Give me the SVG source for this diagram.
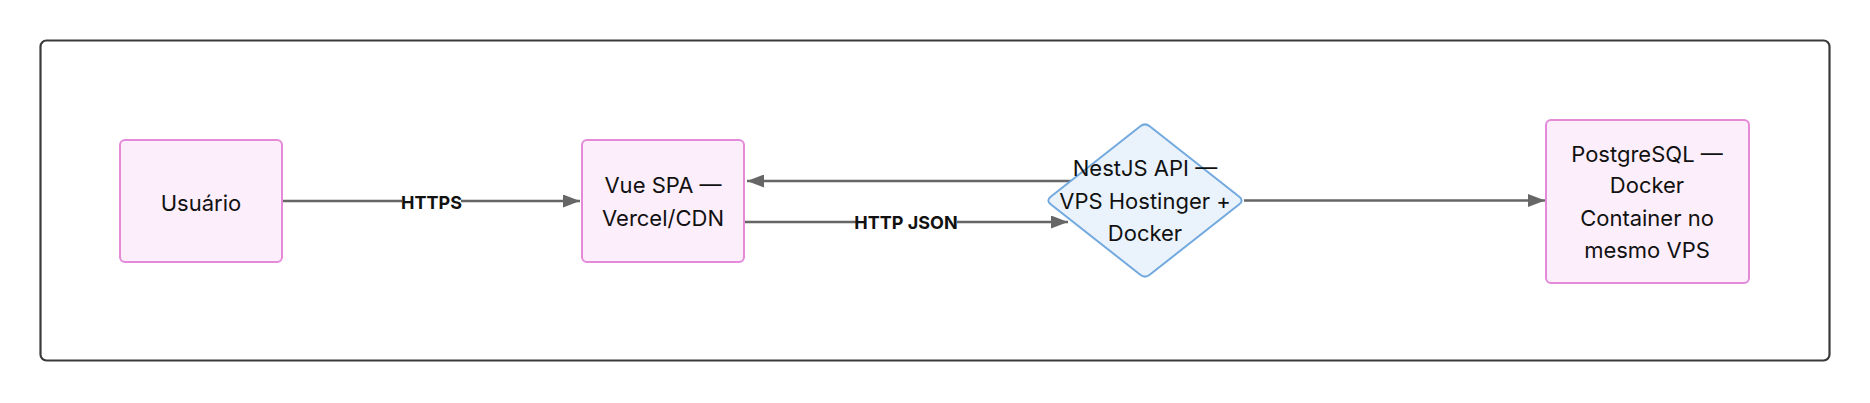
<svg xmlns="http://www.w3.org/2000/svg" width="1870" height="403" viewBox="0 0 1870 403">
<style>
.node-rect{fill:#fdeefb;stroke:#e48ad8;stroke-width:2}
.node-dia{fill:#eaf3fc;stroke:#72a9de;stroke-width:2}
.ntext{font-family:Inter,"Liberation Sans",sans-serif;font-size:22px;fill:#111;text-anchor:middle}
.etext{font-family:Inter,"Liberation Sans",sans-serif;font-size:18px;font-weight:bold;fill:#111;text-anchor:middle}
.edge{stroke:#666;stroke-width:2.5;fill:none}
.lbg{fill:#fff}
</style>
<defs>
<marker id="arrow" viewBox="0 0 17 13" refX="17" refY="6.5" markerWidth="17" markerHeight="13" markerUnits="userSpaceOnUse" orient="auto">
<path d="M0,0 L17,6.5 L0,13 Z" fill="#666"/>
</marker>
</defs>
<rect id="frame" x="40.5" y="40.5" width="1789" height="320" rx="6" fill="#fff" stroke="#3a3a3a" stroke-width="2.2"/>
<g id="connectors">
<path class="edge" d="M282,201 L580,201" marker-end="url(#arrow)"/>
<path class="edge" d="M1071,181 L747,181" marker-end="url(#arrow)"/>
<path class="edge" d="M745,222 L1068,222" marker-end="url(#arrow)"/>
<path class="edge" d="M1244,200.5 L1545,200.5" marker-end="url(#arrow)"/>
<rect class="lbg" x="402" y="194" width="59" height="16"/>
<text class="etext" x="431.5" y="208.5">HTTPS</text>
<rect class="lbg" x="856" y="215" width="101" height="16"/>
<text class="etext" x="906" y="228.5">HTTP JSON</text>
</g>
<g id="usuario">
<rect class="node-rect" x="120" y="140" width="162" height="122" rx="5"/>
<text class="ntext" x="201" y="211">Usuário</text>
</g>
<g id="vue">
<rect class="node-rect" x="582" y="140" width="162" height="122" rx="5"/>
<text class="ntext" x="663" y="193.3">Vue SPA —</text>
<text class="ntext" x="663" y="225.7">Vercel/CDN</text>
</g>
<g id="nestjs">
<path class="node-dia" d="M1140.3,126.2 Q1145,122.5 1149.7,126.2 L1239.3,196.8 Q1244,200.5 1239.3,204.2 L1149.7,274.8 Q1145,278.5 1140.3,274.8 L1050.7,204.2 Q1046,200.5 1050.7,196.8 Z"/>
<text class="ntext" x="1145" y="176">NestJS API —</text>
<text class="ntext" x="1145" y="209">VPS Hostinger +</text>
<text class="ntext" x="1145" y="241">Docker</text>
</g>
<g id="postgres">
<rect class="node-rect" x="1546" y="120" width="203" height="163" rx="5"/>
<text class="ntext" x="1647" y="161.7">PostgreSQL —</text>
<text class="ntext" x="1647" y="193.3">Docker</text>
<text class="ntext" x="1647" y="226">Container no</text>
<text class="ntext" x="1647" y="257.7">mesmo VPS</text>
</g>
</svg>
